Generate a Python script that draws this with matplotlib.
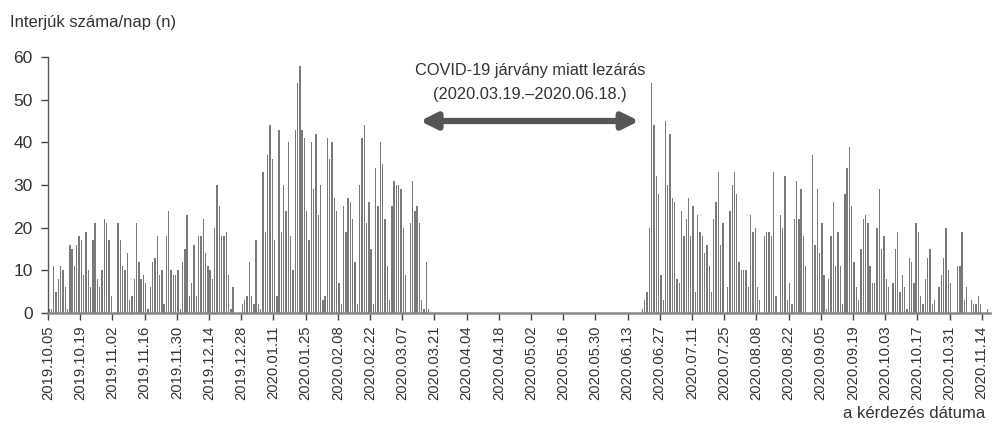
import matplotlib
matplotlib.use("Agg")
import matplotlib.pyplot as plt
import numpy as np
import pandas as pd

plt.rcParams['font.family'] = ['Liberation Sans', 'DejaVu Sans']

# daily interview counts, 2019.10.05 - 2020.03.18
before_lockdown = [
    1, 1, 11, 5, 8, 11, 10, 6, 1, 16,
    15, 11, 16, 18, 17, 9, 19, 10, 6, 17,
    21, 8, 6, 10, 22, 21, 17, 4, 0, 0,
    21, 17, 11, 10, 14, 3, 4, 8, 21, 12,
    8, 9, 7, 1, 6, 12, 13, 18, 9, 10,
    2, 18, 24, 10, 9, 9, 10, 1, 12, 15,
    23, 4, 7, 16, 4, 18, 18, 22, 14, 11,
    10, 8, 20, 30, 25, 18, 18, 19, 9, 1,
    6, 0, 0, 0,
    2, 3, 4, 12, 4, 2, 17, 2, 1, 33,
    19, 37, 44, 36, 17, 4, 43, 19, 30, 24,
    40, 18, 10, 43, 54, 58, 43, 41, 24,
    17, 40, 29, 42, 23, 30, 3, 4, 41, 36,
    40, 27, 24, 7, 2, 25, 19, 27, 26, 22,
    12, 2, 30, 41, 44, 21, 26, 15, 2, 34,
    25, 40, 35, 22, 11, 3, 25, 31, 30, 30,
    29, 20, 9, 0, 21, 31, 24, 25, 21, 3,
    1, 12, 1,
]

# daily interview counts, 2020.06.19 - 2020.11.17
after_lockdown = [
    1, 3, 5, 20, 54, 44, 32, 28, 9, 3,
    45, 30, 42, 27, 26, 8, 7, 24, 18, 22,
    27, 18, 25, 5, 23, 19, 18, 14, 16, 11,
    5, 22, 26, 33, 16, 21, 0, 6, 24, 30,
    33, 28, 12, 10, 10, 10, 6, 23, 19, 20,
    6, 3, 0, 18, 19, 19, 18, 33, 4, 0,
    23, 20, 32, 3, 7, 2, 22, 31, 22, 29,
    18, 11,
    0, 0,
    37, 16, 29, 14, 21, 9, 1, 8, 18, 26,
    11, 19, 11, 2, 28, 34, 39, 25, 12, 6,
    3, 15, 22, 23, 21, 11, 7, 7, 20, 29,
    15, 18, 8, 6, 0, 7, 15, 19, 5, 9,
    6, 1, 13, 12, 7, 21, 19, 4, 2, 8,
    13, 15, 2, 3, 0, 6, 9, 13, 20, 10,
    7, 0, 0, 11, 11, 19, 3, 6, 0, 3,
    2, 2, 4, 2, 0, 0, 1,
]

start = pd.Timestamp('2019-10-05')
lockdown_start = pd.Timestamp('2020-03-19')
reopen = pd.Timestamp('2020-06-19')
tick_dates = pd.date_range('2019-10-05', '2020-11-14', freq='14D')

n_gap = (reopen - lockdown_start).days
counts = np.array(before_lockdown + [0] * n_gap + after_lockdown)
days = np.arange(len(counts))

fig = plt.figure(figsize=(9.95, 4.30), dpi=100)
ax = fig.add_axes([48 / 995, 1 - 313 / 430, 942 / 995, 256 / 430])

ax.bar(days + 0.5, counts, width=0.6, color='#7a7a7a', linewidth=0)

ax.set_xlim(0, 409.6)
ax.set_ylim(0, 60)

tick_pos = [(d - start).days for d in tick_dates]
ax.set_xticks(tick_pos)
ax.set_xticklabels([d.strftime('%Y.%m.%d') for d in tick_dates], rotation=90,
                   fontsize=10.6, color='#333333')
ax.set_yticks(range(0, 61, 10))
ax.set_yticklabels([str(v) for v in range(0, 61, 10)], fontsize=12.5, color='#333333')
ax.tick_params(axis='x', length=5, width=1, color='#444444', pad=4)
ax.tick_params(axis='y', length=5, width=1, color='#444444', pad=6)

for s in ['top', 'right']:
    ax.spines[s].set_visible(False)
ax.spines['left'].set_color('#555555')
ax.spines['left'].set_linewidth(1)
ax.spines['bottom'].set_color('#888888')
ax.spines['bottom'].set_linewidth(1.8)

# lockdown annotation
arrow_left = (lockdown_start - start).days - 4.2
arrow_right = (reopen - start).days - 1
ax.annotate('', xy=(arrow_right, 45), xytext=(arrow_left, 45),
            arrowprops=dict(arrowstyle='<|-|>', mutation_scale=24, lw=4.5,
                            color='#555555', shrinkA=0, shrinkB=0))
ax.text(209.5, 54, 'COVID-19 járvány miatt lezárás\n(2020.03.19.–2020.06.18.)',
        ha='center', va='center', fontsize=11.8, color='#333333', linespacing=1.75)

fig.text(10 / 995, 1 - 22 / 430, 'Interjúk száma/nap (n)', ha='left', va='center',
         fontsize=12, color='#333333')
fig.text(985 / 995, 1 - 414 / 430, 'a kérdezés dátuma', ha='right', va='center',
         fontsize=12, color='#333333')

fig.savefig('out.png', dpi=100)
